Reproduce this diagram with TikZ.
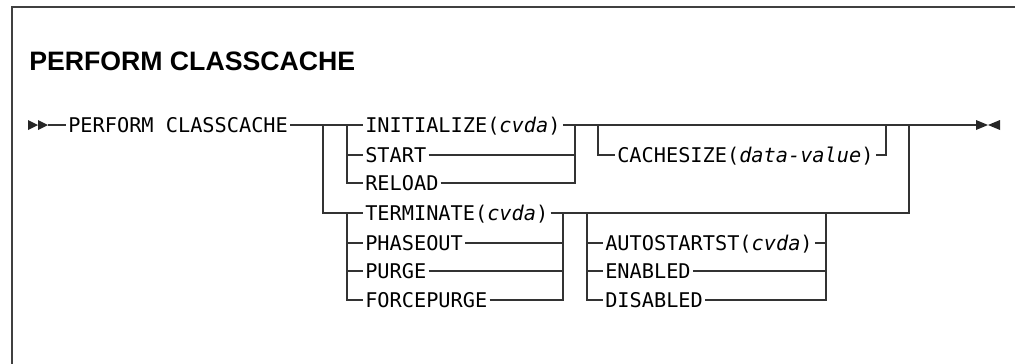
\documentclass[tikz,border=0pt]{standalone}
\usepackage{fontspec}
\setmainfont{Liberation Sans}
\setmonofont{DejaVu Sans Mono}
\begin{document}
\begin{tikzpicture}[x=0.75pt, y=-0.75pt,
  kw/.style={anchor=west, inner xsep=1.5pt, inner ysep=0pt, text height=11.1pt,
             text depth=0pt, font=\fontsize{15.2}{18}\selectfont\ttfamily},
  title/.style={anchor=base west, inner sep=0pt, font=\fontsize{20}{22}\selectfont\bfseries},
  rail/.style={draw=black!80, line width=0.95pt},
  frame/.style={draw=black!75, line width=1.2pt},
  tip/.style={fill=black!85}
]
  \useasboundingbox (0,0) rectangle (1015,364);
  \draw[frame] (12,364) -- (12,7) -- (1015,7);

  \node[title] (ttl) at (29,70) {PERFORM CLASSCACHE};

  % keywords
  \node[kw] (perf) at (66,125) {PERFORM CLASSCACHE};
  \node[kw] (init) at (363,125) {INITIALIZE(\textit{cvda})};
  \node[kw] (start) at (363,155) {START};
  \node[kw] (reload) at (363,183) {RELOAD};
  \node[kw] (term) at (363,213) {TERMINATE(\textit{cvda})};
  \node[kw] (phase) at (363,243) {PHASEOUT};
  \node[kw] (purge) at (363,271) {PURGE};
  \node[kw] (fpurge) at (363,300) {FORCEPURGE};
  \node[kw] (csize) at (615,155) {CACHESIZE(\textit{data-value})};
  \node[kw] (auto) at (603,243) {AUTOSTARTST(\textit{cvda})};
  \node[kw] (enab) at (603,271) {ENABLED};
  \node[kw] (disab) at (603,300) {DISABLED};

  % junctions
  \coordinate (in) at (48,125);
  \coordinate (out) at (976,125);
  \coordinate (a1) at (323,125);
  \coordinate (a2) at (347,125);
  \coordinate (a4) at (347,213);
  \coordinate (b1) at (575,125);
  \coordinate (c1) at (598,125);
  \coordinate (c2) at (886,125);
  \coordinate (a3) at (909,125);
  \coordinate (d1) at (563,213);
  \coordinate (f1) at (587,213);
  \coordinate (f2) at (826,213);

  % start and end marks
  \fill[tip] (28,120) -- (38,125) -- (28,130) -- cycle;
  \fill[tip] (38,120) -- (48,125) -- (38,130) -- cycle;
  \fill[tip] (976,120) -- (988,125) -- (976,130) -- cycle;
  \fill[tip] (1000,120) -- (988,125) -- (1000,130) -- cycle;

  % main line
  \draw[rail] (in) -- (perf.west);
  \draw[rail] (perf.east) -- (init.west);
  \draw[rail] (init.east) -- (out);

  % start / reload
  \draw[rail] (a2) |- (start.west);
  \draw[rail] (a2) |- (reload.west);
  \draw[rail] (start.east) -| (b1);
  \draw[rail] (reload.east) -| (b1);

  % cachesize
  \draw[rail] (c1) |- (csize.west);
  \draw[rail] (csize.east) -| (c2);

  % terminate branch
  \draw[rail] (a1) |- (term.west);
  \draw[rail] (term.east) -| (a3);
  \draw[rail] (a4) |- (phase.west);
  \draw[rail] (a4) |- (purge.west);
  \draw[rail] (a4) |- (fpurge.west);
  \draw[rail] (phase.east) -| (d1);
  \draw[rail] (purge.east) -| (d1);
  \draw[rail] (fpurge.east) -| (d1);

  % autostart
  \draw[rail] (f1) |- (auto.west);
  \draw[rail] (f1) |- (enab.west);
  \draw[rail] (f1) |- (disab.west);
  \draw[rail] (auto.east) -| (f2);
  \draw[rail] (enab.east) -| (f2);
  \draw[rail] (disab.east) -| (f2);
\end{tikzpicture}
\end{document}
